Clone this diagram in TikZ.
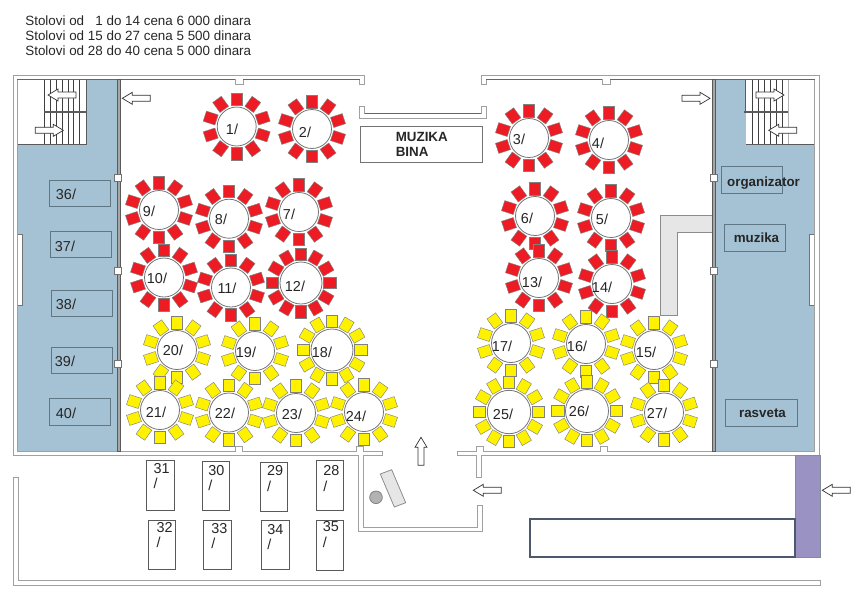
\documentclass[tikz,border=0pt]{standalone}
\usepackage{fontspec}
\setmainfont{Liberation Sans}
\definecolor{roomblue}{HTML}{A4C2D3}
\definecolor{boxline}{HTML}{5F7685}
\definecolor{wallgray}{HTML}{A0A0A0}
\definecolor{walldark}{HTML}{5A5A5A}
\definecolor{chairred}{HTML}{ED1C24}
\definecolor{chairyellow}{HTML}{FFF200}
\definecolor{lightgray2}{HTML}{E6E6E6}
\definecolor{stagepurple}{HTML}{9B92C4}
\definecolor{slateline}{HTML}{4D5A6E}
\tikzset{
	wall/.style={draw=wallgray, line width=0.5pt},
	innerline/.style={draw=black!60, line width=0.25pt},
	thickwall/.style={draw=walldark, fill=gray!70, line width=0.4pt},
	room/.style={draw=walldark, fill=roomblue, line width=0.5pt},
	deskbox/.style={draw=boxline, line width=0.5pt},
	stair/.style={draw=black!75, line width=0.35pt},
	arrowline/.style={draw=black!80, fill=white, line width=0.4pt},
	redchair/.style={draw=black!50, fill=chairred, line width=0.25pt},
	yellowchair/.style={draw=black!50, fill=chairyellow, line width=0.25pt},
	tablecircle/.style={circle, draw=black!55, fill=white, line width=0.45pt, inner sep=0pt},
	seatlabel/.style={font=\fontsize{8.2}{9}\selectfont, inner sep=0pt, text=black!85},
	longlabel/.style={font=\fontsize{8.2}{8.9}\selectfont, inner sep=0pt, align=left, anchor=west, text=black!85},
	boldlabel/.style={font=\fontsize{7.6}{8.9}\selectfont\bfseries, inner sep=0pt, text=black!85},
	longtable/.style={draw=black!65, fill=white, line width=0.45pt},
	plug/.style={draw=black!55, fill=white, line width=0.35pt},
	greybox/.style={draw=black!45, fill=lightgray2, line width=0.45pt}
}
% name, x, y, radius, chairs, chair style, label, label x, label y
\newcommand{\roundtable}[9]{
	\begin{scope}[shift={(#2,#3)}]
		\foreach \i in {1,...,#5} {
			\draw[#6, rotate=90+\i*360/#5] (#4+1.7,-5.3) rectangle (#4+14,5.3);
		}
	\end{scope}
	\node[tablecircle, minimum size=#4*0.04cm] (t#1) at (#2,#3) {};
	\node[seatlabel] (l#1) at (#8,#9) {#7};
}
\def\blockarrow(#1,#2)[#3]{\draw[arrowline, shift={(#1,#2)}, rotate=#3] (0,0) -- (10,-6) -- (10,-3) -- (28,-3) -- (28,3) -- (10,3) -- (10,6) -- cycle;}
\begin{document}
\begin{tikzpicture}[x=0.02cm, y=-0.02cm]
	\useasboundingbox (0,0) rectangle (859,600);

	%%%%% heading %%%%%
	\node[longlabel, font=\fontsize{7.63}{8.6}\selectfont] (prices) at (25,35.7) {Stolovi od \ \ 1 do 14 cena 6 000 dinara\\Stolovi od 15 do 27 cena 5 500 dinara\\Stolovi od 28 do 40 cena 5 000 dinara};

	%%%%% side rooms %%%%%
	\draw[room] (17,79) rectangle (117,451);
	\draw[room] (715,79) rectangle (814.5,451);

	\fill[white] (17,79) rectangle (86,144);
	\draw[walldark, line width=0.5pt] (17,144) -- (86,144) -- (86,79);
	\foreach \x in {44,50,56,62,68,73.5,79.5} {
		\draw[stair] (\x,79) -- (\x,144);
	}
	\draw[walldark, line width=0.6pt] (44,112) -- (87,112);

	\fill[white] (746,79) rectangle (814.5,144);
	\draw[walldark, line width=0.5pt] (814.5,144) -- (746,144);
	\draw[walldark, line width=0.5pt] (745,79) -- (745,112);
	\foreach \x in {752.5,758.5,764.5,770.5,776.5,782.5} {
		\draw[stair] (\x,79) -- (\x,144);
	}
	\draw[stair, black!30] (788.5,79) -- (788.5,144);
	\draw[walldark, line width=0.6pt] (744,112) -- (788,112);

	%%%%% side boxes %%%%%
	\draw[deskbox] (49.5,180) rectangle (110.5,206.5);
	\draw[deskbox] (50.5,231) rectangle (111.5,257.5);
	\draw[deskbox] (51,290) rectangle (112,316.5);
	\draw[deskbox] (51,347) rectangle (112,373.5);
	\draw[deskbox] (49.5,398) rectangle (110.5,425);
	\node[seatlabel] (l36) at (66,194) {36/};
	\node[seatlabel] (l37) at (65,246.5) {37/};
	\node[seatlabel] (l38) at (66,304) {38/};
	\node[seatlabel] (l39) at (65,361) {39/};
	\node[seatlabel] (l40) at (66,413) {40/};

	\draw[deskbox] (721.5,166.5) rectangle (782.5,193.5);
	\draw[deskbox] (724.5,224.5) rectangle (785.5,251);
	\draw[deskbox] (725,399) rectangle (797.5,426);
	\node[boldlabel] (organizer) at (763.5,183) {organizator};
	\node[boldlabel] (music) at (756.5,237.5) {muzika};
	\node[boldlabel] (light) at (762.5,413) {rasveta};

	\draw[plug] (17,234) rectangle (22.5,305);
	\draw[plug] (809.5,234) rectangle (814.5,305);

	%%%%% grey block %%%%%
	\draw[greybox] (712,215.5) -- (660.5,215.5) -- (660.5,315.5) -- (677,315.5) -- (677,232.5) -- (712,232.5);

	%%%%% walls %%%%%
	\draw[wall] (359.5,84) -- (364,84) -- (364,75) -- (13,75) -- (13,455) -- (358,455) -- (358,531) -- (482,531) -- (482,505) -- (477,505) -- (477,527) -- (363,527) -- (363,455) -- (382,455) -- (382,451) -- (363,451) -- (363,446) -- (356,446) -- (356,451) -- (242,451) -- (242,446) -- (235,446) -- (235,451) -- (17,451) -- (17,79) -- (235,79) -- (235,84) -- (243,84) -- (243,79) -- (359.5,79) -- cycle;
	\draw[wall] (481,84) -- (481,75) -- (819.5,75) -- (819.5,455) -- (481.5,455) -- (481.5,477) -- (476.5,477) -- (476.5,455) -- (457,455) -- (457,451) -- (476.5,451) -- (476.5,446) -- (483,446) -- (483,451) -- (600,451) -- (600,446) -- (607,446) -- (607,451) -- (814.5,451) -- (814.5,79) -- (610,79) -- (610,84) -- (602,84) -- (602,79) -- (486,79) -- (486,84) -- cycle;
	\draw[wall] (13.5,477.5) -- (18.5,477.5) -- (18.5,580.5) -- (820.5,580.5) -- (820.5,585.5) -- (13.5,585.5) -- cycle;
	\draw[innerline] (17,79) -- (235,79);
	\draw[innerline] (243,79) -- (359.5,79);
	\draw[innerline] (486,79) -- (602,79);
	\draw[innerline] (610,79) -- (814.5,79);

	\draw[thickwall] (117,79) rectangle (120.5,451);
	\draw[thickwall] (712,79) rectangle (715.5,451);
	\foreach \y in {174.5,267,360.5} {
		\draw[plug] (114,\y) rectangle (121.5,\y+7);
		\draw[plug] (710.5,\y) rectangle (717.5,\y+7);
	}

	%%%%% stage %%%%%
	\draw[wall] (359.5,106) -- (364.5,106) -- (364.5,113.5) -- (481,113.5) -- (481,106) -- (486,106) -- (486,118.5) -- (359.5,118.5) -- cycle;
	\draw[innerline] (364.5,113.5) -- (481,113.5);
	\draw[wall, draw=black!55] (360,126.5) rectangle (482.5,162.5);
	\node[boldlabel, align=left, anchor=north west, font=\fontsize{7.6}{8.6}\selectfont\bfseries] (stage) at (395.5,131.5) {MUZIKA\\BINA};

	%%%%% round tables %%%%%
	\roundtable{1}{236.7}{126.5}{19.5}{10}{redchair}{1/}{232}{129}
	\roundtable{2}{312}{129}{19.5}{10}{redchair}{2/}{305}{132}
	\roundtable{3}{529}{138}{19.5}{10}{redchair}{3/}{519}{139}
	\roundtable{4}{609}{140}{19.5}{10}{redchair}{4/}{598}{143}
	\roundtable{5}{611}{218}{19.5}{10}{redchair}{5/}{602}{219}
	\roundtable{6}{535}{216}{19.5}{10}{redchair}{6/}{527}{218}
	\roundtable{7}{299}{212}{19.5}{10}{redchair}{7/}{289}{214}
	\roundtable{8}{229}{218.7}{19.5}{10}{redchair}{8/}{221}{219}
	\roundtable{9}{159}{210}{19.5}{10}{redchair}{9/}{149}{211}
	\roundtable{10}{164}{277.5}{19.5}{10}{redchair}{10/}{157}{278}
	\roundtable{11}{231}{287.5}{19.5}{10}{redchair}{11/}{227}{288}
	\roundtable{12}{301}{283}{21}{12}{redchair}{12/}{295}{286}
	\roundtable{13}{539}{278}{19.5}{10}{redchair}{13/}{532}{282}
	\roundtable{14}{612}{284}{19.5}{10}{redchair}{14/}{602}{287}
	\roundtable{15}{654}{350}{19.5}{10}{yellowchair}{15/}{646}{352}
	\roundtable{16}{586}{344}{19.5}{10}{yellowchair}{16/}{577}{346}
	\roundtable{17}{511}{343}{19.5}{10}{yellowchair}{17/}{502}{346}
	\roundtable{18}{332}{350}{21}{12}{yellowchair}{18/}{322}{352}
	\roundtable{19}{255}{351}{19.5}{10}{yellowchair}{19/}{246}{352}
	\roundtable{20}{177}{350}{19.5}{10}{yellowchair}{20/}{173}{350}
	\roundtable{21}{160}{410}{19.5}{10}{yellowchair}{21/}{156}{412}
	\roundtable{22}{229}{412.5}{19.5}{10}{yellowchair}{22/}{225}{413}
	\roundtable{23}{296}{413}{19.5}{10}{yellowchair}{23/}{292}{414}
	\roundtable{24}{364}{412}{19.5}{10}{yellowchair}{24/}{356}{416}
	\roundtable{25}{509}{412}{21.7}{12}{yellowchair}{25/}{503}{414}
	\roundtable{26}{587}{411}{21.5}{12}{yellowchair}{26/}{579}{411}
	\roundtable{27}{664}{412.5}{19.5}{10}{yellowchair}{27/}{657}{413}

	%%%%% long tables %%%%%
	\draw[longtable] (146.7,460.7) rectangle (174,510.7);
	\draw[longtable] (202,461.3) rectangle (229.3,510.7);
	\draw[longtable] (260.7,462) rectangle (287.3,511.7);
	\draw[longtable] (316,460.7) rectangle (343,510.7);
	\draw[longtable] (148.3,520) rectangle (175.7,569.3);
	\draw[longtable] (203.7,520) rectangle (231,569.3);
	\draw[longtable] (261.7,520) rectangle (289,569.3);
	\draw[longtable] (316,520.5) rectangle (343.3,570);
	\node[longlabel] (l31) at (153.3,476) {31\\/};
	\node[longlabel] (l30) at (208,478) {30\\/};
	\node[longlabel] (l29) at (266.7,478.5) {29\\/};
	\node[longlabel] (l28) at (323,478.5) {28\\/};
	\node[longlabel] (l32) at (156.3,535) {32\\/};
	\node[longlabel] (l33) at (211,536) {33\\/};
	\node[longlabel] (l34) at (267,537) {34\\/};
	\node[longlabel] (l35) at (322.5,534.5) {35\\/};

	%%%%% entrance %%%%%
	\draw[greybox] (380.3,474) -- (391.7,469.7) -- (405.7,502.7) -- (394.3,507) -- cycle;
	\draw[draw=black!50, fill=black!30, line width=0.45pt] (376,497.3) circle (6.3);

	\draw[fill=stagepurple, draw=slateline!70, line width=0.5pt] (795,455.5) rectangle (820,557.5);
	\draw[draw=slateline, line width=1pt] (530,518.7) rectangle (795,557.3);

	%%%%% arrows %%%%%
	\blockarrow(122.3,98.3)[0]
	\blockarrow(48,95)[0]
	\blockarrow(63.3,130.3)[180]
	\blockarrow(710,98.3)[180]
	\blockarrow(784,95)[180]
	\blockarrow(768.7,130.3)[0]
	\blockarrow(421,437.3)[-90]
	\blockarrow(473.3,490.3)[0]
	\blockarrow(822.3,490.3)[0]
\end{tikzpicture}
\end{document}
